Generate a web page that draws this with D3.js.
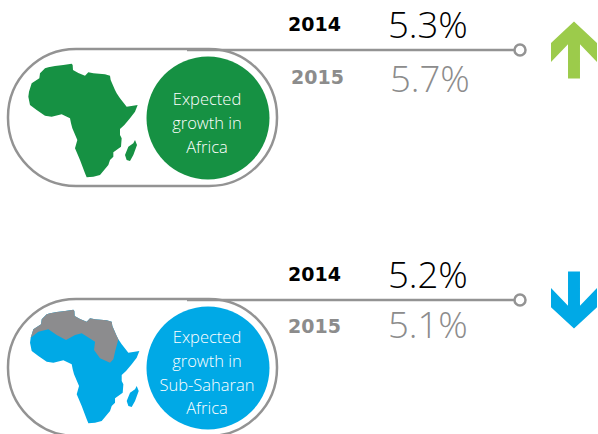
<!DOCTYPE html>
<html>
<head>
<meta charset="utf-8">
<script src="https://cdn.jsdelivr.net/npm/d3@7"></script>
<style>
	html, body { margin: 0; padding: 0; background: #fff; overflow: hidden; }
	text { font-family: "Open Sans", sans-serif; }
</style>
</head>
<body>
<div id="chart"></div>
<script>
//The values
var regionLabels = [["Expected", "growth in", "Africa"], ["Expected", "growth in", "Sub-Saharan", "Africa"]];
var years = ["2014", "2015"];
var growth2014 = [5.3, 5.2];
var growth2015 = [5.7, 5.1];
var regionColors = ["#169143", "#00a9e6"];
var arrowColors = ["#9ccb4b", "#00a9e6"];
var lineGrey = "#939393";

//Traced outlines, in the map's own units
var africaOutline = [[87,155],[95,130],[118,115],[120,100],[135,85],[145,82],[165,78],[190,75],[215,71],[218,75],[219,90],[235,99],[255,107],[265,97],[280,100],[315,103],[330,107],[332,120],[345,150],[350,160],[360,175],[380,200],[413,195],[405,215],[390,235],[373,255],[360,267],[360,285],[365,295],[363,320],[340,337],[340,350],[330,360],[325,375],[300,405],[280,410],[260,412],[255,400],[240,360],[225,325],[232,300],[217,265],[213,250],[210,235],[185,223],[155,230],[135,227],[110,210],[90,195],[85,170]];
var madagascarOutline = [[405,300],[411,315],[400,345],[390,363],[380,360],[375,345],[385,320],[400,310]];
var northBorder = [[87,155],[110,137],[140,130],[165,147],[193,162],[220,147],[240,142],[280,167],[277,192],[295,217],[325,230],[335,220],[340,197],[350,160]];

var width = 598, height = 434;

var svg = d3.select("#chart")
	.append("svg")
	.attr("width", width)
	.attr("height", height);

//North part of the map: the top of the outline closed off by the border
var northOutline = africaOutline.slice(0, africaOutline.findIndex(function(d){ return d[0] == 350; }) + 1)
	.concat(northBorder.slice().reverse());

//Layout of each panel
var panels = [
	{top: 49, mapX: 0, mapY: 40, yearY: [31, 84], yearX: [288, 291], valueY: [38, 92], valueX: [388, 390], labelY: 105},
	{top: 299, mapX: 1.7, mapY: 286, yearY: [281, 333], yearX: [288, 288], valueY: [288, 338], valueX: [388, 388], labelY: 343}
];

panels.forEach(function(p, i)
{
	var g = svg.append("g");

	//Pill
	g.append("rect")
		.attr("x", 8)
		.attr("y", p.top)
		.attr("width", 269)
		.attr("height", 137)
		.attr("rx", 68)
		.attr("ry", 68)
		.attr("fill", "none")
		.attr("stroke", lineGrey)
		.attr("stroke-width", 2.5);

	//Leader line with the small ring at its end
	g.append("line")
		.attr("x1", 187)
		.attr("x2", 515)
		.attr("y1", p.top + 1)
		.attr("y2", p.top + 1)
		.attr("stroke", lineGrey)
		.attr("stroke-width", 2.5);

	g.append("circle")
		.attr("cx", 520)
		.attr("cy", p.top + 1)
		.attr("r", 5.5)
		.attr("fill", "#fff")
		.attr("stroke", lineGrey)
		.attr("stroke-width", 2.5);

	//Map
	var x = d3.scaleLinear().domain([0, 3]).range([p.mapX, p.mapX + 1]);
	var y = d3.scaleLinear().domain([0, 3]).range([p.mapY, p.mapY + 1]);
	var mapLine = d3.line().x(function(d){ return x(d[0]); }).y(function(d){ return y(d[1]); });

	g.append("path")
		.attr("d", mapLine(africaOutline) + "Z")
		.attr("fill", regionColors[i]);

	g.append("path")
		.attr("d", mapLine(madagascarOutline) + "Z")
		.attr("fill", regionColors[i]);

	if(i == 1)
	{
		g.append("path")
			.attr("d", mapLine(northOutline) + "Z")
			.attr("fill", "#8c8c8e");
	}

	//Region circle and its label
	g.append("circle")
		.attr("cx", 208)
		.attr("cy", p.top + 69)
		.attr("r", 61.5)
		.attr("fill", regionColors[i]);

	g.selectAll(".region-label")
		.data(regionLabels[i])
		.enter()
		.append("text")
		.attr("class", "region-label")
		.attr("x", 207)
		.attr("y", function(d, j){ return p.labelY + j * 23.8; })
		.attr("text-anchor", "middle")
		.attr("fill", "#fff")
		.style("font-size", "16.5px")
		.style("font-weight", 300)
		.text(function(d){ return d; });

	//Years and growth values
	var values = [growth2014[i], growth2015[i]];
	var textColors = ["#000", "#8c8c8c"];

	years.forEach(function(year, j)
	{
		g.append("text")
			.attr("x", p.yearX[j])
			.attr("y", p.yearY[j])
			.attr("fill", textColors[j])
			.style("font-family", "'DejaVu Sans', sans-serif")
			.style("font-size", "19px")
			.style("font-weight", 700)
			.text(year);

		g.append("text")
			.attr("x", p.valueX[j])
			.attr("y", p.valueY[j])
			.attr("fill", textColors[j])
			.style("font-size", "36.5px")
			.style("font-weight", 300)
			.text(values[j].toFixed(1) + "%");
	});

	//Direction arrow, drawn pointing up then flipped when growth falls
	var dir = values[1] > values[0] ? 1 : -1;
	var ax = d3.scaleLinear().domain([-1, 1]).range([551, 597]);
	var ay = d3.scaleLinear().domain([-1, 1]).range([p.top + 1 - dir * 28.5, p.top + 1 + dir * 28.5]);
	var arrowLine = d3.line().x(function(d){ return ax(d[0]); }).y(function(d){ return ay(d[1]); });

	g.append("path")
		.attr("d", arrowLine([[0,-1],[1,-0.25],[1,0.42],[0.26,-0.2],[0.26,1],[-0.26,1],[-0.26,-0.2],[-1,0.42],[-1,-0.25]]) + "Z")
		.attr("fill", arrowColors[i]);
});
</script>
</body>
</html>
